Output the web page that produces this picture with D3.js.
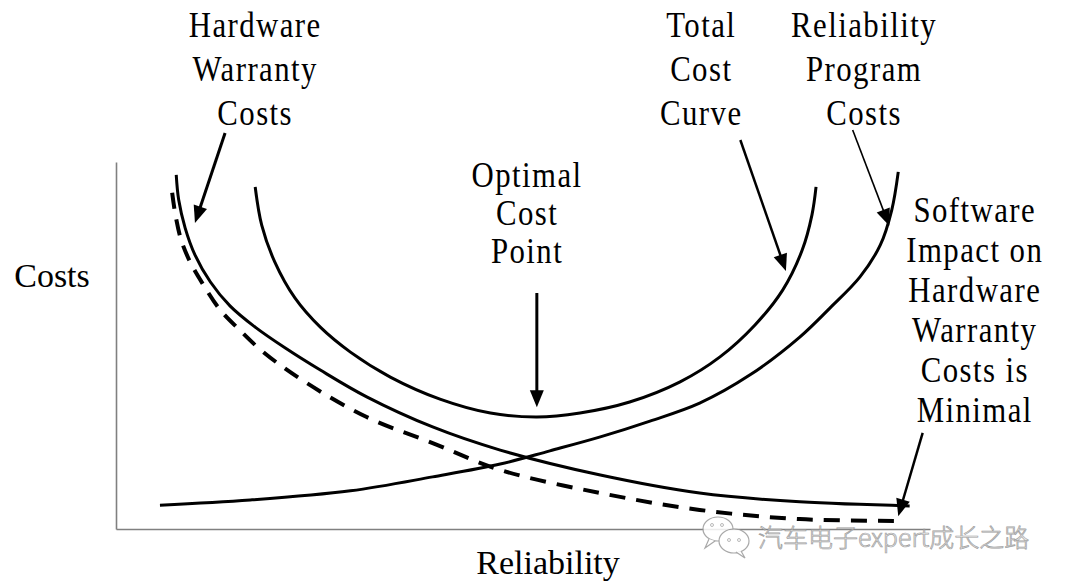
<!DOCTYPE html>
<html><head><meta charset="utf-8">
<script src="https://cdn.jsdelivr.net/npm/d3@7"></script>
<style>html,body{margin:0;padding:0;background:#fff;} svg{display:block;}</style>
</head><body><svg id="chart" width="1080" height="587"></svg>
<script>
// ---- Data (reliability on x, cost on y, both in arbitrary 0-100 units) ----
const hwX = [7.4, 7.7, 8.5, 9.7, 11.6, 14.0, 17.1, 20.8, 25.1, 30.8, 38.9, 47.2, 59.5, 71.7, 84.0, 97.5];
const hwY = [96.5, 89.7, 82.0, 74.7, 67.3, 60.8, 55.0, 49.3, 43.3, 36.0, 27.8, 21.5, 14.7, 9.8, 7.4, 6.3];

const swX = [6.9, 7.3, 8.0, 9.1, 10.6, 12.8, 15.2, 18.1, 23.2, 30.8, 38.9, 47.2, 59.5, 71.7, 84.0, 96.9];
const swY = [91.6, 85.6, 78.8, 72.8, 67.0, 59.7, 54.2, 48.2, 40.1, 30.5, 23.4, 16.1, 9.8, 5.2, 2.7, 2.2];

const progX = [5.4, 16.5, 28.8, 38.9, 47.2, 53.3, 59.5, 65.6, 71.7, 77.9, 84.0, 87.7, 91.4, 93.9, 95.3, 96.1];
const progY = [6.5, 7.9, 10.4, 14.2, 17.7, 21.3, 25.1, 29.4, 34.3, 42.0, 52.3, 60.2, 68.7, 77.4, 86.9, 97.3];

const totalX = [17.1, 17.9, 19.5, 22.0, 25.1, 28.8, 33.7, 39.8, 46.0, 51.7, 57.0, 63.1, 69.3, 74.2, 78.5, 81.9, 84.3, 85.5, 86.0];
const totalY = [93.2, 82.8, 72.8, 62.9, 55.0, 48.2, 41.4, 35.4, 31.6, 30.5, 31.6, 34.6, 40.1, 46.9, 55.6, 65.1, 76.0, 85.6, 93.2];

// annotation labels and arrows (data units)
const labelText = [
  ["Hardware", "Warranty", "Costs"],
  ["Total", "Cost", "Curve"],
  ["Reliability", "Program", "Costs"],
  ["Optimal", "Cost", "Point"],
  ["Software", "Impact on", "Hardware", "Warranty", "Costs is", "Minimal"]
];
const labelX = [17.1, 71.9, 91.9, 50.5, 105.5];
const labelY = [134.1, 134.1, 134.1, 93.2, 83.7];
const arrowFrom = [[13.4, 107.9], [51.7, 64.3], [76.7, 106.0], [90.5, 108.7], [99.1, 26.2]];
const arrowTo   = [[9.7, 83.4],  [51.7, 33.2], [82.3, 70.3],  [95.0, 82.6],  [96.1, 3.5]];

const xAxisLabel = "Reliability";
const yAxisLabel = "Costs";
const watermark = "汽车电子expert成长之路";

// ---- Drawing ----
const SERIF = "Tinos";
const svg = d3.select("#chart");
svg.append("rect").attr("width", 1080).attr("height", 587).attr("fill", "#fff");

const x = d3.scaleLinear().domain([0, 100]).range([116, 930]);
const y = d3.scaleLinear().domain([0, 100]).range([529, 162]);

// axes (plain lines, no ticks)
const xAxis = d3.axisBottom(x).tickValues([]).tickSizeOuter(0);
const yAxis = d3.axisLeft(y).tickValues([]).tickSizeOuter(0);
svg.append("g").attr("transform", `translate(0,${y(0)})`).call(xAxis)
  .select(".domain").attr("stroke", "#808080").attr("stroke-width", 1.6);
svg.append("g").attr("transform", `translate(${x(0)},0)`).call(yAxis)
  .select(".domain").attr("stroke", "#808080").attr("stroke-width", 1.6);

const line = d3.line().x(d => x(d[0])).y(d => y(d[1])).curve(d3.curveCatmullRom.alpha(0.5));
const series = [
  {xs: hwX, ys: hwY, dash: null, w: 3},
  {xs: swX, ys: swY, dash: "16,11", w: 4},
  {xs: progX, ys: progY, dash: null, w: 3},
  {xs: totalX, ys: totalY, dash: null, w: 3}
];
series.forEach(s => {
  const p = svg.append("path")
    .datum(s.xs.map((v, i) => [v, s.ys[i]]))
    .attr("d", line)
    .attr("fill", "none")
    .attr("stroke", "#000")
    .attr("stroke-width", s.w);
  if (s.dash) p.attr("stroke-dasharray", s.dash);
});

// arrows
const arrowW = [3, 3, 2.5, 1.6, 2.5];
arrowFrom.forEach((f, i) => {
  const x1 = x(f[0]), y1 = y(f[1]), x2 = x(arrowTo[i][0]), y2 = y(arrowTo[i][1]);
  const dx = x2 - x1, dy = y2 - y1, len = Math.hypot(dx, dy);
  const ux = dx / len, uy = dy / len;
  const hl = 17, hw = 7;
  const bx = x2 - ux * hl, by = y2 - uy * hl;
  svg.append("line")
    .attr("x1", x1).attr("y1", y1)
    .attr("x2", x2 - ux * (hl - 2)).attr("y2", y2 - uy * (hl - 2))
    .attr("stroke", "#000").attr("stroke-width", arrowW[i]);
  svg.append("path")
    .attr("d", `M${x2},${y2}L${bx - uy * hw},${by + ux * hw}L${bx + uy * hw},${by - ux * hw}Z`)
    .attr("fill", "#000");
});

// annotation labels: base font 32px, scaled to ~35px tall and narrowed
const lineH = [44, 44, 44, 38, 40];
const sx = 0.9625, sy = 1.094;
labelText.forEach((lines, i) => {
  const g = svg.append("g")
    .attr("transform", `translate(${x(labelX[i])},${y(labelY[i])}) scale(${sx},${sy})`);
  lines.forEach((t, j) => {
    g.append("text")
      .attr("x", 0).attr("y", j * lineH[i] / sy)
      .attr("text-anchor", "middle")
      .attr("font-family", SERIF)
      .attr("font-size", 32)
      .attr("letter-spacing", 1.5)
      .attr("fill", "#000")
      .text(t);
  });
});

// axis titles
const ts = 1.0625;
svg.append("g").attr("transform", `translate(52,287) scale(${ts})`)
  .append("text").attr("text-anchor", "middle").attr("font-family", SERIF)
  .attr("font-size", 32).text(yAxisLabel);
svg.append("g").attr("transform", `translate(548,574) scale(${ts})`)
  .append("text").attr("text-anchor", "middle").attr("font-family", SERIF)
  .attr("font-size", 32).text(xAxisLabel);

// watermark
const wm = svg.append("g").attr("opacity", 0.85);
wm.append("ellipse").attr("cx", 718).attr("cy", 529).attr("rx", 15).attr("ry", 12)
  .attr("fill", "#fff").attr("stroke", "#9a9a9a").attr("stroke-width", 1.2);
wm.append("path").attr("d", "M709,539 L705,548 L715,541").attr("fill", "#fff").attr("stroke", "#9a9a9a").attr("stroke-width", 1.2);
wm.append("ellipse").attr("cx", 734).attr("cy", 541).attr("rx", 15).attr("ry", 12)
  .attr("fill", "#fff").attr("stroke", "#9a9a9a").attr("stroke-width", 1.2);
wm.append("path").attr("d", "M741,551 L745,558 L736,552").attr("fill", "#fff").attr("stroke", "#9a9a9a").attr("stroke-width", 1.2);
[[712, 525], [722, 525], [729, 540], [739, 540]].forEach(p =>
  wm.append("circle").attr("cx", p[0]).attr("cy", p[1]).attr("r", 1.5).attr("fill", "#fff").attr("stroke", "#9a9a9a").attr("stroke-width", 0.8));
wm.append("text").attr("x", 758).attr("y", 547)
  .attr("font-family", "Noto Sans CJK SC")
  .attr("font-weight", 300)
  .attr("font-size", 25)
  .attr("fill", "#e6e6e6").attr("stroke", "#8f8f8f").attr("stroke-width", 0.7)
  .text(watermark);
</script>
</body></html>
